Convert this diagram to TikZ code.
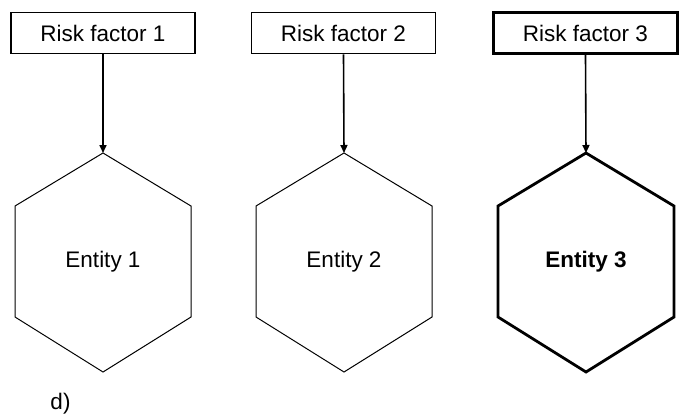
\documentclass[tikz,border=0pt]{standalone}
\usepackage{fontspec}
\setmainfont{Liberation Sans}
\usetikzlibrary{arrows.meta}
\begin{document}
\begin{tikzpicture}[x=1pt,y=-1pt,
  txt/.style={font=\fontsize{22.5}{26}\selectfont},
  rfbox/.style={draw, line width=1.3pt, minimum width=184pt, minimum height=41.5pt, inner sep=0pt, txt},
  rfboxbold/.style={rfbox, line width=2.8pt},
  link/.style={line width=1.6pt, -{Triangle[length=8pt,width=7pt]}},
  hexthin/.style={line width=1pt, line join=miter},
  hexbold/.style={line width=2.8pt, line join=miter},
  lbl/.style={anchor=base, inner sep=0pt, txt}]
\useasboundingbox (0,0) rectangle (681,418);
% risk factor boxes
\node[rfbox] (r1) at (103,33) {Risk factor 1};
\node[rfbox] (r2) at (343.5,33) {Risk factor 2};
\node[rfboxbold] (r3) at (585.5,33) {Risk factor 3};
% hexagons
\foreach \n/\c/\s in {1/103/hexthin, 2/344/hexthin, 3/586/hexbold}{
  \coordinate (t\n) at (\c,153);
  \draw[\s] (t\n) -- (\c+88,206) -- (\c+88,317) -- (\c,372) -- (\c-88,317) -- (\c-88,206) -- cycle;
}
\node[lbl] (e1) at (103,267) {Entity 1};
\node[lbl] (e2) at (344,267) {Entity 2};
\node[lbl] (e3) at (586,267) {\bfseries Entity 3};
% connectors
\draw[link] (r1.south) -- (t1);
\draw[link] (r2.south) -- (t2);
\draw[link] (r3.south) -- (t3);
% caption
\node[lbl] (d) at (60.5,409) {d)};
\end{tikzpicture}
\end{document}
